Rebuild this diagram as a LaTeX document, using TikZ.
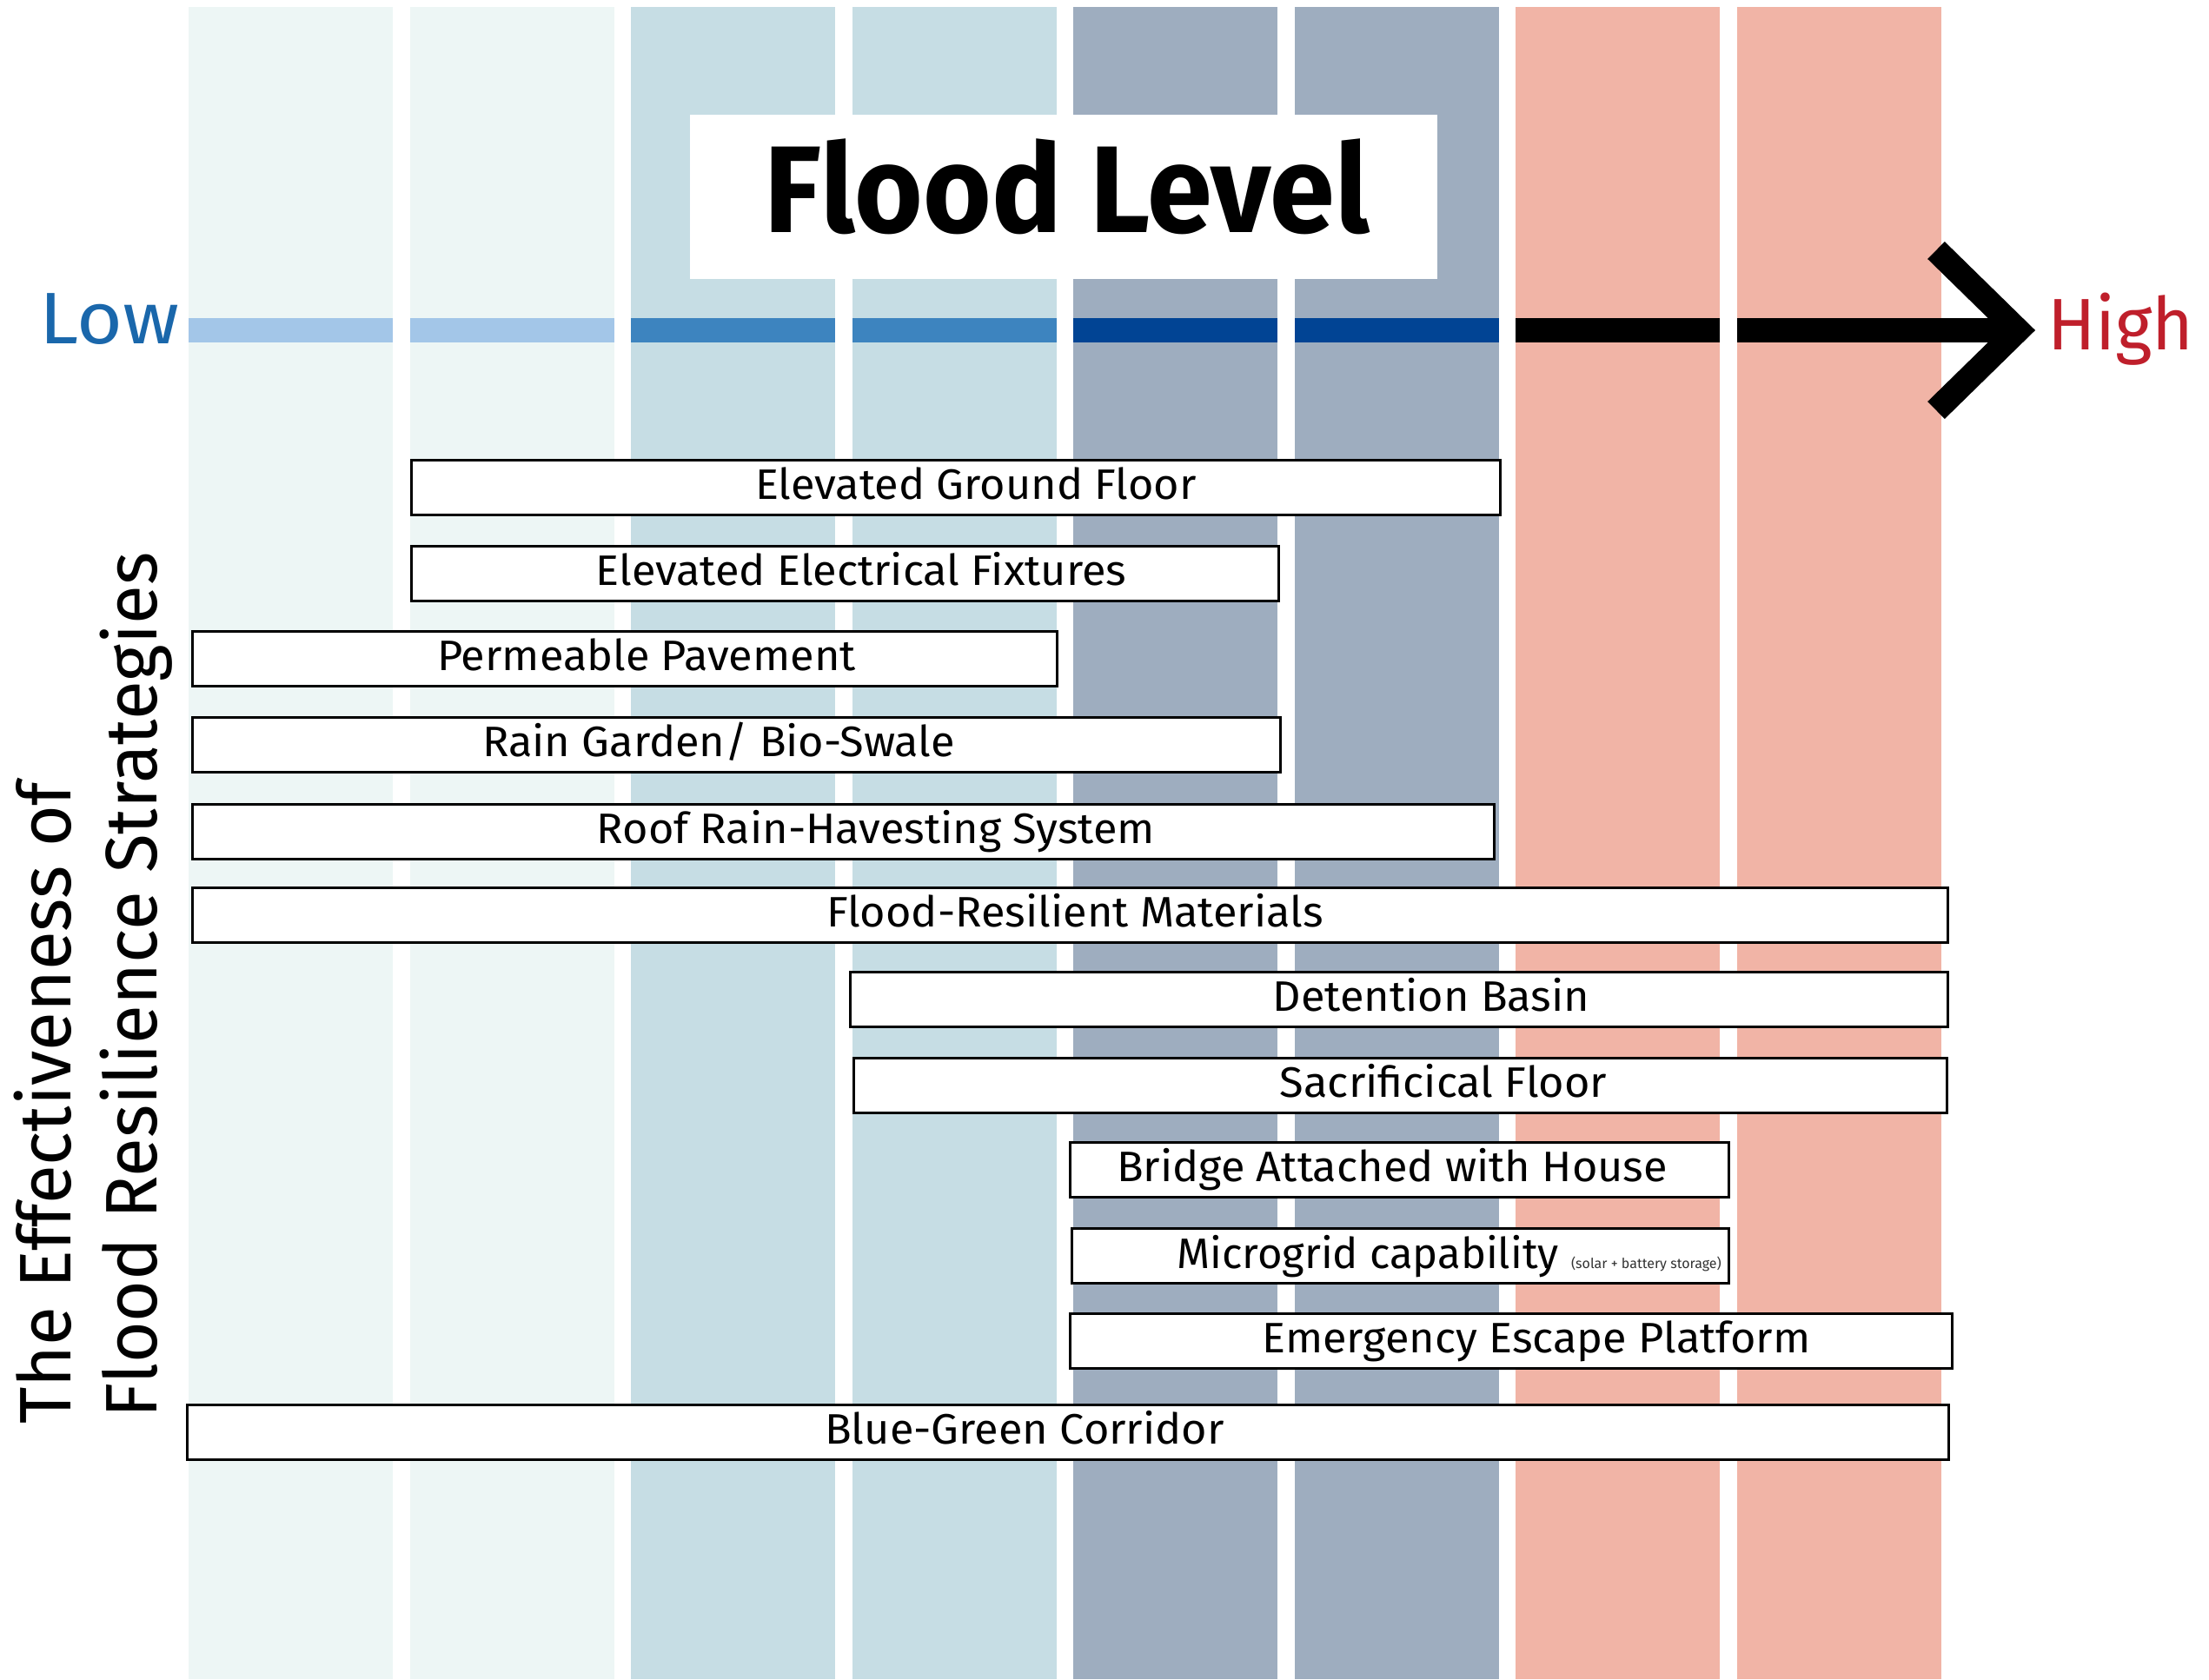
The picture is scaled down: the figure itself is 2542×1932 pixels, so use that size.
\documentclass[tikz,border=0pt]{standalone}
\usepackage{fontspec}
\setmainfont{Fira Sans}
\newfontfamily\titlefont{Fira Sans}[FakeStretch=0.95]
\newfontfamily\lblfont{Fira Sans}[FakeStretch=1.03]
\newfontfamily\vfont{Fira Sans}[FakeStretch=0.975]
\newfontfamily\lowfont{Fira Sans}[FakeStretch=1.08]
\newfontfamily\highfont{Fira Sans}[FakeStretch=0.97]
\usetikzlibrary{positioning}
\definecolor{cA}{HTML}{EDF6F5}
\definecolor{cB}{HTML}{C6DDE4}
\definecolor{cC}{HTML}{9EADBF}
\definecolor{cD}{HTML}{F1B4A6}
\definecolor{bA}{HTML}{A3C6E8}
\definecolor{bB}{HTML}{3D84BF}
\definecolor{bC}{HTML}{014494}
\definecolor{lowblue}{HTML}{1A67AB}
\definecolor{highred}{HTML}{BF1F2B}
\tikzset{
  colband/.style={draw=none, inner sep=0, anchor=north west, minimum width=235pt, minimum height=1924pt},
  levbar/.style={draw=none, inner sep=0, anchor=north west, minimum width=235pt, minimum height=28pt},
  sbox/.style={draw=black, line width=2.5pt, fill=white, inner sep=0, anchor=north west, minimum height=63pt},
  lbl/.style={inner sep=0, anchor=base, font=\lblfont\fontsize{49}{55}\selectfont},
  axislbl/.style={inner sep=0, anchor=base west},
  vlbl/.style={inner sep=0, anchor=base west, rotate=90, font=\vfont\fontsize{84}{90}\selectfont},
}
\begin{document}
\begin{tikzpicture}[x=1pt, y=-1pt]
\useasboundingbox (0,0) rectangle (2542,1932);
% columns
\node[colband, fill=cA] (k1) at (217,8) {};
\node[colband, fill=cA] (k2) at (472,8) {};
\node[colband, fill=cB] (k3) at (726,8) {};
\node[colband, fill=cB] (k4) at (981,8) {};
\node[colband, fill=cC] (k5) at (1235,8) {};
\node[colband, fill=cC] (k6) at (1490,8) {};
\node[colband, fill=cD] (k7) at (1744,8) {};
\node[colband, fill=cD] (k8) at (1999,8) {};
% level bars
\node[levbar, fill=bA] (l1) at (217,366) {};
\node[levbar, fill=bA] (l2) at (472,366) {};
\node[levbar, fill=bB] (l3) at (726,366) {};
\node[levbar, fill=bB] (l4) at (981,366) {};
\node[levbar, fill=bC] (l5) at (1235,366) {};
\node[levbar, fill=bC] (l6) at (1490,366) {};
\node[levbar, fill=black] (l7) at (1744,366) {};
\coordinate (shaft) at (1999,380);
\coordinate (tip) at (2322,380);
\coordinate (armtop) at (2228,288);
\coordinate (armbot) at (2228,472);
\draw[line width=28pt] (shaft) -- (tip);
\draw[line width=28pt, miter limit=10] (armtop) -- (tip) -- (armbot);
% axis labels
\node[axislbl, text=lowblue, font=\lowfont\fontsize{84}{90}\selectfont] (low) at (45,395) {Low};
\node[axislbl, text=highred, font=\highfont\fontsize{84}{90}\selectfont] (high) at (2356,402) {High};
% title
\node[fill=white, draw=none, inner sep=0, anchor=north west, minimum width=860pt, minimum height=189pt] (titlebox) at (794,132) {};
\node[inner sep=0, anchor=base, font=\titlefont\bfseries\fontsize{142}{150}\selectfont] (title) at (1228,267) {Flood Level};
% vertical title
\node[vlbl] (v1) at (81,1639) {The Effectiveness of};
\node[vlbl] (v2) at (180,1632) {Flood Resilience Strategies};
% strategy boxes
\node[sbox, minimum width=1253pt] (s1) at (472,528) {};
\node[lbl] at (1123,574) {Elevated Ground Floor};
\node[sbox, minimum width=998pt] (s2) at (472,627) {};
\node[lbl] at (991,673) {Elevated Electrical Fixtures};
\node[sbox, minimum width=995pt] (s3) at (220,725) {};
\node[lbl] at (744,771) {Permeable Pavement};
\node[sbox, minimum width=1252pt] (s4) at (220,824) {};
\node[lbl] at (827,870) {Rain Garden/ Bio-Swale};
\node[sbox, minimum width=1498pt] (s5) at (220,924) {};
\node[lbl] at (1008,970) {Roof Rain-Havesting System};
\node[sbox, minimum width=2020pt] (s6) at (220,1020) {};
\node[lbl] at (1237,1066) {Flood-Resilient Materials};
\node[sbox, minimum width=1263pt] (s7) at (977,1117) {};
\node[lbl] at (1647,1163) {Detention Basin};
\node[sbox, minimum width=1258pt] (s8) at (981,1216) {};
\node[lbl] at (1661,1262) {Sacrificical Floor};
\node[sbox, minimum width=758pt] (s9) at (1230,1313) {};
\node[lbl] at (1602,1359) {Bridge Attached with House};
\node[sbox, minimum width=756pt] (s10) at (1232,1412) {};
\node[lbl, anchor=base west, font=\fontsize{49}{55}\selectfont] (m1) at (1354,1459) {Microgrid capability};
\node[inner sep=0, anchor=base east, text=black!80, font=\fontsize{16}{18}\selectfont] (m2) at (1981,1459) {(solar + battery storage)};
\node[sbox, minimum width=1015pt] (s11) at (1230,1510) {};
\node[lbl] at (1768,1556) {Emergency Escape Platform};
\node[sbox, minimum width=2027pt] (s12) at (214,1615) {};
\node[lbl] at (1179,1661) {Blue-Green Corridor};
\end{tikzpicture}
\end{document}
